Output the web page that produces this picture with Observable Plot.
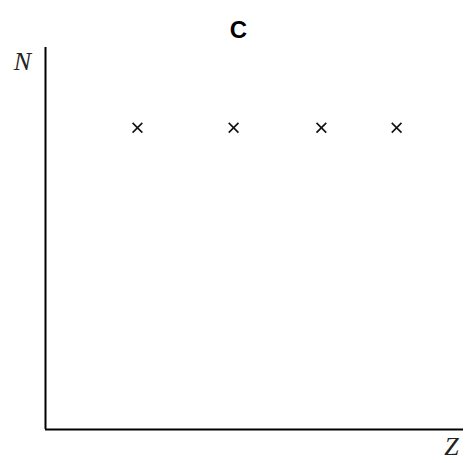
<!DOCTYPE html>
<html>
<head>
<meta charset="utf-8">
<script src="https://cdn.jsdelivr.net/npm/d3@7"></script>
<script src="https://cdn.jsdelivr.net/npm/@observablehq/plot@0.6"></script>
<style>
  html, body { margin: 0; padding: 0; background: #fff; }
  #chart svg { display: block; }
</style>
</head>
<body>
<div id="chart"></div>
<script>
const titleText = "C";
const xLabel = "Z";
const yLabel = "N";
const zValues = [22, 45, 66, 84];
const nValues = [79, 79, 79, 79];

const points = zValues.map((z, i) => ({z, n: nValues[i]}));

const chart = Plot.plot({
  width: 470,
  height: 463,
  marginLeft: 45,
  marginRight: 7,
  marginTop: 47,
  marginBottom: 34,
  style: {background: "#fff"},
  x: {domain: [0, 100], axis: null},
  y: {domain: [0, 100], axis: null},
  marks: [
    Plot.ruleX([0], {stroke: "#000", strokeWidth: 2}),
    Plot.ruleY([0], {stroke: "#000", strokeWidth: 2}),
    Plot.dot(points, {x: "z", y: "n", symbol: "times", r: 4.5, stroke: "#111", strokeWidth: 1.6}),
    Plot.text([titleText], {frameAnchor: "top", dx: -16, dy: -17, text: d => d,
      fontFamily: "Liberation Sans, Arial, sans-serif", fontWeight: "bold", fontSize: 24,
      fill: "#000", textAnchor: "middle", lineAnchor: "middle"}),
    Plot.text([yLabel], {frameAnchor: "top-left", dx: -23, dy: 14, text: d => d,
      fontFamily: "Liberation Serif, Times New Roman, serif", fontStyle: "italic", fontSize: 26,
      fill: "#222", textAnchor: "middle", lineAnchor: "middle"}),
    Plot.text([xLabel], {frameAnchor: "bottom-right", dx: -12, dy: 17, text: d => d,
      fontFamily: "Liberation Serif, Times New Roman, serif", fontStyle: "italic", fontSize: 26,
      fill: "#222", textAnchor: "middle", lineAnchor: "middle"})
  ]
});
document.getElementById("chart").appendChild(chart);
</script>
</body>
</html>
